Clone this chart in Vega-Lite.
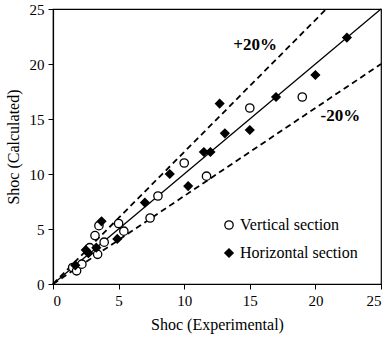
{
  "$schema": "https://vega.github.io/schema/vega-lite/v6.json",
  "width": 328,
  "height": 275,
  "autosize": "none",
  "padding": {"left": 53, "top": 9, "right": 11, "bottom": 60},
  "background": "white",
  "config": {
    "font": "'Liberation Serif', 'Times New Roman', 'DejaVu Serif', serif",
    "view": {"stroke": "black", "strokeWidth": 1.2},
    "axis": {
      "grid": false,
      "domainColor": "black",
      "tickColor": "black",
      "labelColor": "black",
      "titleColor": "black",
      "labelFont": "'Liberation Serif', 'Times New Roman', 'DejaVu Serif', serif",
      "titleFont": "'Liberation Serif', 'Times New Roman', 'DejaVu Serif', serif",
      "labelFontSize": 15,
      "titleFontSize": 16,
      "titleFontWeight": "normal",
      "tickSize": 5,
      "domainWidth": 1.2
    }
  },
  "datasets": {
    "points": [
      {"series": "Vertical section", "exp": 1.5, "calc": 1.5},
      {"series": "Vertical section", "exp": 1.8, "calc": 1.2},
      {"series": "Vertical section", "exp": 2.2, "calc": 1.8},
      {"series": "Vertical section", "exp": 2.8, "calc": 3.3},
      {"series": "Vertical section", "exp": 3.2, "calc": 4.4},
      {"series": "Vertical section", "exp": 3.5, "calc": 5.3},
      {"series": "Vertical section", "exp": 3.4, "calc": 2.7},
      {"series": "Vertical section", "exp": 3.9, "calc": 3.8},
      {"series": "Vertical section", "exp": 5.0, "calc": 5.5},
      {"series": "Vertical section", "exp": 5.4, "calc": 4.8},
      {"series": "Vertical section", "exp": 7.4, "calc": 6.0},
      {"series": "Vertical section", "exp": 8.0, "calc": 8.0},
      {"series": "Vertical section", "exp": 10.0, "calc": 11.0},
      {"series": "Vertical section", "exp": 11.7, "calc": 9.8},
      {"series": "Vertical section", "exp": 15.0, "calc": 16.0},
      {"series": "Vertical section", "exp": 19.0, "calc": 17.0},
      {"series": "Horizontal section", "exp": 1.7, "calc": 1.7},
      {"series": "Horizontal section", "exp": 2.5, "calc": 3.1},
      {"series": "Horizontal section", "exp": 2.7, "calc": 2.8},
      {"series": "Horizontal section", "exp": 3.3, "calc": 3.3},
      {"series": "Horizontal section", "exp": 3.7, "calc": 5.7},
      {"series": "Horizontal section", "exp": 4.9, "calc": 4.1},
      {"series": "Horizontal section", "exp": 7.0, "calc": 7.4},
      {"series": "Horizontal section", "exp": 8.9, "calc": 10.0},
      {"series": "Horizontal section", "exp": 10.3, "calc": 8.9},
      {"series": "Horizontal section", "exp": 11.5, "calc": 12.0},
      {"series": "Horizontal section", "exp": 12.0, "calc": 12.0},
      {"series": "Horizontal section", "exp": 12.7, "calc": 16.4},
      {"series": "Horizontal section", "exp": 13.1, "calc": 13.7},
      {"series": "Horizontal section", "exp": 15.0, "calc": 14.0},
      {"series": "Horizontal section", "exp": 17.0, "calc": 17.0},
      {"series": "Horizontal section", "exp": 20.0, "calc": 19.0},
      {"series": "Horizontal section", "exp": 22.4, "calc": 22.4}
    ],
    "lines": [
      {"line": "equal", "exp": 0, "calc": 0},
      {"line": "equal", "exp": 25, "calc": 25},
      {"line": "plus20", "exp": 0, "calc": 0},
      {"line": "plus20", "exp": 20.83, "calc": 25},
      {"line": "minus20", "exp": 0, "calc": 0},
      {"line": "minus20", "exp": 25, "calc": 20}
    ],
    "labels": [
      {"text": "+20%", "exp": 15.4, "calc": 21.7},
      {"text": "-20%", "exp": 21.9, "calc": 15.3}
    ]
  },
  "layer": [
    {
      "data": {"name": "lines"},
      "transform": [{"filter": "datum.line === 'equal'"}],
      "mark": {"type": "line", "color": "black", "strokeWidth": 1.3},
      "encoding": {
        "x": {"field": "exp", "type": "quantitative", "scale": {"domain": [0, 25], "nice": false}, "axis": {"values": [0, 5, 10, 15, 20, 25], "title": "Shoc (Experimental)", "titlePadding": 8, "labelPadding": 4}},
        "y": {"field": "calc", "type": "quantitative", "scale": {"domain": [0, 25], "nice": false}, "axis": {"values": [0, 5, 10, 15, 20, 25], "title": "Shoc (Calculated)", "titlePadding": 8, "labelPadding": 4}}
      }
    },
    {
      "data": {"name": "lines"},
      "transform": [{"filter": "datum.line !== 'equal'"}],
      "mark": {"type": "line", "color": "black", "strokeWidth": 1.8, "strokeDash": [6, 4]},
      "encoding": {
        "x": {"field": "exp", "type": "quantitative"},
        "y": {"field": "calc", "type": "quantitative"},
        "detail": {"field": "line"}
      }
    },
    {
      "data": {"name": "points"},
      "mark": {"type": "point", "stroke": "black", "strokeWidth": 1.3, "size": 70, "opacity": 1},
      "encoding": {
        "x": {"field": "exp", "type": "quantitative"},
        "y": {"field": "calc", "type": "quantitative"},
        "shape": {"field": "series", "type": "nominal", "scale": {"domain": ["Vertical section", "Horizontal section"], "range": ["circle", "diamond"]}, "legend": {"title": null, "orient": "none", "legendX": 168, "legendY": 208, "labelFont": "'Liberation Serif', 'Times New Roman', 'DejaVu Serif', serif", "labelFontSize": 16, "labelColor": "black", "symbolSize": 70, "symbolStrokeWidth": 1.3, "rowPadding": 12, "labelOffset": 3}},
        "fill": {"field": "series", "type": "nominal", "scale": {"domain": ["Vertical section", "Horizontal section"], "range": ["white", "black"]}, "legend": {"title": null, "orient": "none", "legendX": 168, "legendY": 208, "labelFont": "'Liberation Serif', 'Times New Roman', 'DejaVu Serif', serif", "labelFontSize": 16, "labelColor": "black", "symbolSize": 70, "symbolStrokeWidth": 1.3, "rowPadding": 12, "labelOffset": 3}}
      }
    },
    {
      "data": {"name": "labels"},
      "mark": {"type": "text", "font": "'Liberation Serif', 'Times New Roman', 'DejaVu Serif', serif", "fontSize": 17, "fontWeight": "bold", "color": "black"},
      "encoding": {
        "x": {"field": "exp", "type": "quantitative"},
        "y": {"field": "calc", "type": "quantitative"},
        "text": {"field": "text"}
      }
    }
  ]
}
